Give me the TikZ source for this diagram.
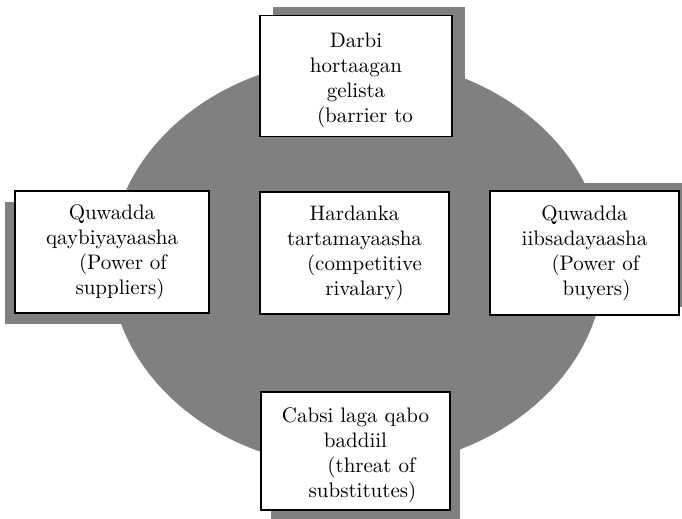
\documentclass[tikz,border=0pt]{standalone}
\usepackage{tikz}
\usetikzlibrary{shadows}
\usetikzlibrary{positioning}
\usepackage{xcolor}
\definecolor{ovalgrey}{HTML}{808080}
\tikzset{box/.style = {draw, fill=white, line width=0.75pt, align=center, inner sep=2pt,
		font=\fontsize{10.5}{12.5}\selectfont}}
\tikzset{shade/.style 2 args = {general shadow={fill=ovalgrey, shadow xshift=#1, shadow yshift=#2}}}
\newcommand{\lead}[1]{\hspace*{#1pt}}
\newcommand{\topstrut}{\rule{0pt}{12pt}}

\begin{document}
\begin{tikzpicture}[x=0.5pt, y=-0.5pt]
		\useasboundingbox (0,0) rectangle (682,519);
		%draw the grey oval behind the boxes
		\fill[ovalgrey] (357,263) ellipse [x radius=123.5pt, y radius=102.5pt];

		%draw the five forces
		\node[box, shade={6.5pt}{4pt}, minimum width=96pt, minimum height=60.5pt](entry) at (356,76)
			{\topstrut Darbi\\ hortaagan\\ gelista\\ \lead{9}(barrier to};
		\node[box, shade={-5pt}{-5.5pt}, minimum width=97pt, minimum height=61pt](supp) at (112,252)
			{Quwadda\\ qaybiyayaasha\\ \lead{11}(Power of\\ \lead{8}suppliers)};
		\node[box, minimum width=94.5pt, minimum height=61pt](rival) at (354.5,253)
			{Hardanka\\ tartamayaasha\\ \lead{10}(competitive\\ \lead{10}rivalary)};
		\node[box, shade={6pt}{4pt}, minimum width=94.5pt, minimum height=62pt](buyers) at (584.5,253)
			{Quwadda\\ iibsadayaasha\\ \lead{11}(Power of\\ \lead{12}buyers)};
		\node[box, shade={5pt}{-5pt}, minimum width=94.5pt, minimum height=59pt](subst) at (355.5,451)
			{\topstrut Cabsi laga qabo\\ baddiil\\ \lead{16}(threat of\\ \lead{7}substitutes)};
\end{tikzpicture}
\end{document}
